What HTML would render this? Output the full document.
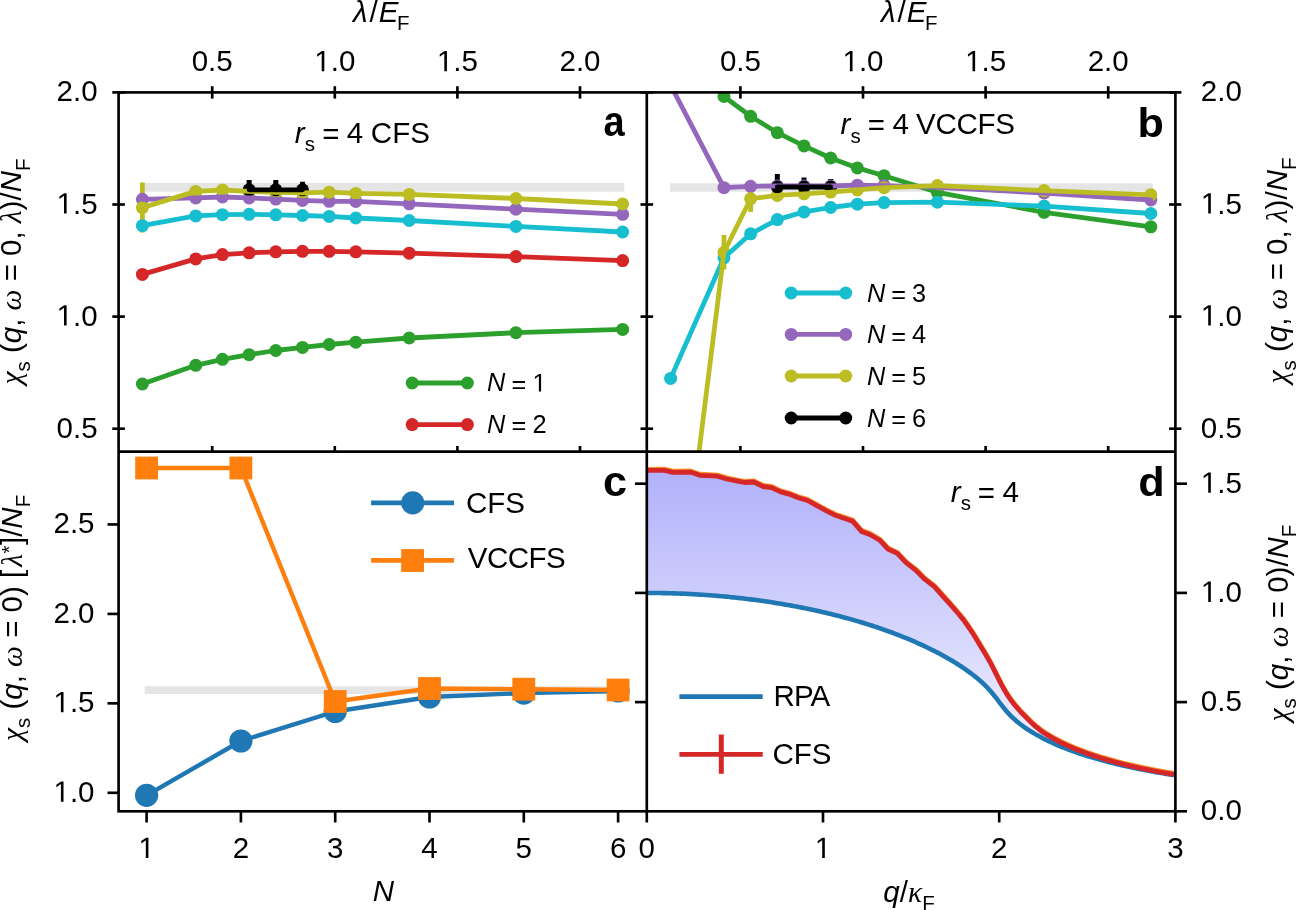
<!DOCTYPE html>
<html><head><meta charset="utf-8"><style>
html,body{margin:0;padding:0;background:#fff;overflow:hidden;}
svg{display:block;will-change:transform;}
</style></head><body>
<svg width="1297" height="910" viewBox="0 0 1297 910" font-family="Liberation Sans, sans-serif">
<rect width="1297" height="910" fill="#fff"/>
<defs>
<clipPath id="ca"><rect x="118.6" y="92.4" width="528.1999999999999" height="359.20000000000005"/></clipPath>
<clipPath id="cb"><rect x="646.8" y="92.4" width="528.6000000000001" height="359.20000000000005"/></clipPath>
<clipPath id="cc"><rect x="118.6" y="451.6" width="528.1999999999999" height="359.69999999999993"/></clipPath>
<clipPath id="cd"><rect x="646.8" y="451.6" width="528.6000000000001" height="359.69999999999993"/></clipPath>
<linearGradient id="gfill" x1="0" y1="468" x2="0" y2="811" gradientUnits="userSpaceOnUse"><stop offset="0" stop-color="rgb(176,176,250)"/><stop offset="1" stop-color="rgb(255,255,255)"/></linearGradient>
</defs>
<g clip-path="url(#ca)">
<line x1="144.80" y1="187.35" x2="624.30" y2="187.35" stroke="#e5e5e5" stroke-width="8.6" stroke-linecap="butt"/>
<line x1="142.40" y1="182.60" x2="142.40" y2="232.60" stroke="#bcbd22" stroke-width="4.8" stroke-linecap="butt"/>
<line x1="249.12" y1="180.10" x2="249.12" y2="199.50" stroke="#000" stroke-width="5.0" stroke-linecap="butt"/>
<line x1="275.80" y1="180.10" x2="275.80" y2="199.50" stroke="#000" stroke-width="5.0" stroke-linecap="butt"/>
<line x1="302.48" y1="181.70" x2="302.48" y2="197.90" stroke="#000" stroke-width="5.0" stroke-linecap="butt"/>
<circle cx="142.40" cy="384.00" r="6.5" fill="#2ca02c"/>
<circle cx="195.76" cy="365.30" r="6.5" fill="#2ca02c"/>
<circle cx="222.44" cy="359.30" r="6.5" fill="#2ca02c"/>
<circle cx="249.12" cy="354.70" r="6.5" fill="#2ca02c"/>
<circle cx="275.80" cy="350.50" r="6.5" fill="#2ca02c"/>
<circle cx="302.48" cy="347.40" r="6.5" fill="#2ca02c"/>
<circle cx="329.16" cy="344.50" r="6.5" fill="#2ca02c"/>
<circle cx="355.84" cy="342.20" r="6.5" fill="#2ca02c"/>
<circle cx="409.20" cy="338.00" r="6.5" fill="#2ca02c"/>
<circle cx="515.92" cy="332.70" r="6.5" fill="#2ca02c"/>
<circle cx="622.64" cy="329.40" r="6.5" fill="#2ca02c"/>
<circle cx="142.40" cy="274.40" r="6.5" fill="#d62728"/>
<circle cx="195.76" cy="258.90" r="6.5" fill="#d62728"/>
<circle cx="222.44" cy="254.60" r="6.5" fill="#d62728"/>
<circle cx="249.12" cy="252.80" r="6.5" fill="#d62728"/>
<circle cx="275.80" cy="251.80" r="6.5" fill="#d62728"/>
<circle cx="302.48" cy="251.30" r="6.5" fill="#d62728"/>
<circle cx="329.16" cy="251.30" r="6.5" fill="#d62728"/>
<circle cx="355.84" cy="251.80" r="6.5" fill="#d62728"/>
<circle cx="409.20" cy="253.20" r="6.5" fill="#d62728"/>
<circle cx="515.92" cy="256.60" r="6.5" fill="#d62728"/>
<circle cx="622.64" cy="260.60" r="6.5" fill="#d62728"/>
<circle cx="142.40" cy="225.70" r="6.5" fill="#17becf"/>
<circle cx="195.76" cy="215.90" r="6.5" fill="#17becf"/>
<circle cx="222.44" cy="214.70" r="6.5" fill="#17becf"/>
<circle cx="249.12" cy="214.30" r="6.5" fill="#17becf"/>
<circle cx="275.80" cy="214.80" r="6.5" fill="#17becf"/>
<circle cx="302.48" cy="215.50" r="6.5" fill="#17becf"/>
<circle cx="329.16" cy="216.40" r="6.5" fill="#17becf"/>
<circle cx="355.84" cy="218.00" r="6.5" fill="#17becf"/>
<circle cx="409.20" cy="220.50" r="6.5" fill="#17becf"/>
<circle cx="515.92" cy="226.40" r="6.5" fill="#17becf"/>
<circle cx="622.64" cy="232.00" r="6.5" fill="#17becf"/>
<circle cx="142.40" cy="199.30" r="6.5" fill="#9467bd"/>
<circle cx="195.76" cy="197.90" r="6.5" fill="#9467bd"/>
<circle cx="222.44" cy="197.00" r="6.5" fill="#9467bd"/>
<circle cx="249.12" cy="197.90" r="6.5" fill="#9467bd"/>
<circle cx="275.80" cy="199.10" r="6.5" fill="#9467bd"/>
<circle cx="302.48" cy="200.40" r="6.5" fill="#9467bd"/>
<circle cx="329.16" cy="201.30" r="6.5" fill="#9467bd"/>
<circle cx="355.84" cy="201.40" r="6.5" fill="#9467bd"/>
<circle cx="409.20" cy="203.80" r="6.5" fill="#9467bd"/>
<circle cx="515.92" cy="209.20" r="6.5" fill="#9467bd"/>
<circle cx="622.64" cy="214.30" r="6.5" fill="#9467bd"/>
<circle cx="142.40" cy="207.60" r="6.5" fill="#bcbd22"/>
<circle cx="195.76" cy="191.40" r="6.5" fill="#bcbd22"/>
<circle cx="222.44" cy="190.00" r="6.5" fill="#bcbd22"/>
<circle cx="249.12" cy="191.30" r="6.5" fill="#bcbd22"/>
<circle cx="275.80" cy="192.30" r="6.5" fill="#bcbd22"/>
<circle cx="302.48" cy="192.80" r="6.5" fill="#bcbd22"/>
<circle cx="329.16" cy="192.20" r="6.5" fill="#bcbd22"/>
<circle cx="355.84" cy="193.40" r="6.5" fill="#bcbd22"/>
<circle cx="409.20" cy="194.40" r="6.5" fill="#bcbd22"/>
<circle cx="515.92" cy="198.50" r="6.5" fill="#bcbd22"/>
<circle cx="622.64" cy="204.00" r="6.5" fill="#bcbd22"/>
<circle cx="249.12" cy="189.80" r="6.5" fill="#000"/>
<circle cx="275.80" cy="189.80" r="6.5" fill="#000"/>
<circle cx="302.48" cy="189.80" r="6.5" fill="#000"/>
<polyline points="142.40,384.00 195.76,365.30 222.44,359.30 249.12,354.70 275.80,350.50 302.48,347.40 329.16,344.50 355.84,342.20 409.20,338.00 515.92,332.70 622.64,329.40" fill="none" stroke="#2ca02c" stroke-width="4.8" stroke-linejoin="round" stroke-linecap="round" />
<polyline points="142.40,274.40 195.76,258.90 222.44,254.60 249.12,252.80 275.80,251.80 302.48,251.30 329.16,251.30 355.84,251.80 409.20,253.20 515.92,256.60 622.64,260.60" fill="none" stroke="#d62728" stroke-width="4.8" stroke-linejoin="round" stroke-linecap="round" />
<polyline points="142.40,225.70 195.76,215.90 222.44,214.70 249.12,214.30 275.80,214.80 302.48,215.50 329.16,216.40 355.84,218.00 409.20,220.50 515.92,226.40 622.64,232.00" fill="none" stroke="#17becf" stroke-width="4.8" stroke-linejoin="round" stroke-linecap="round" />
<polyline points="142.40,199.30 195.76,197.90 222.44,197.00 249.12,197.90 275.80,199.10 302.48,200.40 329.16,201.30 355.84,201.40 409.20,203.80 515.92,209.20 622.64,214.30" fill="none" stroke="#9467bd" stroke-width="4.8" stroke-linejoin="round" stroke-linecap="round" />
<polyline points="142.40,207.60 195.76,191.40 222.44,190.00 249.12,191.30 275.80,192.30 302.48,192.80 329.16,192.20 355.84,193.40 409.20,194.40 515.92,198.50 622.64,204.00" fill="none" stroke="#bcbd22" stroke-width="4.8" stroke-linejoin="round" stroke-linecap="round" />
<polyline points="249.12,189.80 275.80,189.80 302.48,189.80" fill="none" stroke="#000" stroke-width="4.8" stroke-linejoin="round" stroke-linecap="round" />
</g>
<g clip-path="url(#cb)">
<line x1="670.00" y1="187.50" x2="1152.90" y2="187.50" stroke="#e5e5e5" stroke-width="8.6" stroke-linecap="butt"/>
<line x1="723.96" y1="235.00" x2="723.96" y2="269.60" stroke="#bcbd22" stroke-width="4.8" stroke-linecap="butt"/>
<line x1="750.64" y1="185.50" x2="750.64" y2="211.90" stroke="#bcbd22" stroke-width="4.8" stroke-linecap="butt"/>
<line x1="777.32" y1="174.00" x2="777.32" y2="200.00" stroke="#000" stroke-width="5.0" stroke-linecap="butt"/>
<line x1="804.00" y1="177.40" x2="804.00" y2="196.60" stroke="#000" stroke-width="5.0" stroke-linecap="butt"/>
<line x1="830.68" y1="179.10" x2="830.68" y2="194.90" stroke="#000" stroke-width="5.0" stroke-linecap="butt"/>
<circle cx="723.96" cy="96.50" r="6.5" fill="#2ca02c"/>
<circle cx="750.64" cy="116.30" r="6.5" fill="#2ca02c"/>
<circle cx="777.32" cy="132.70" r="6.5" fill="#2ca02c"/>
<circle cx="804.00" cy="145.90" r="6.5" fill="#2ca02c"/>
<circle cx="830.68" cy="158.00" r="6.5" fill="#2ca02c"/>
<circle cx="857.36" cy="167.90" r="6.5" fill="#2ca02c"/>
<circle cx="884.04" cy="175.70" r="6.5" fill="#2ca02c"/>
<circle cx="937.40" cy="192.30" r="6.5" fill="#2ca02c"/>
<circle cx="1044.12" cy="212.30" r="6.5" fill="#2ca02c"/>
<circle cx="1150.84" cy="226.80" r="6.5" fill="#2ca02c"/>
<circle cx="670.60" cy="378.40" r="6.5" fill="#17becf"/>
<circle cx="723.96" cy="257.80" r="6.5" fill="#17becf"/>
<circle cx="750.64" cy="233.80" r="6.5" fill="#17becf"/>
<circle cx="777.32" cy="219.60" r="6.5" fill="#17becf"/>
<circle cx="804.00" cy="211.90" r="6.5" fill="#17becf"/>
<circle cx="830.68" cy="207.50" r="6.5" fill="#17becf"/>
<circle cx="857.36" cy="204.20" r="6.5" fill="#17becf"/>
<circle cx="884.04" cy="202.60" r="6.5" fill="#17becf"/>
<circle cx="937.40" cy="202.20" r="6.5" fill="#17becf"/>
<circle cx="1044.12" cy="206.10" r="6.5" fill="#17becf"/>
<circle cx="1150.84" cy="213.50" r="6.5" fill="#17becf"/>
<circle cx="670.60" cy="85.10" r="6.5" fill="#9467bd"/>
<circle cx="723.96" cy="187.70" r="6.5" fill="#9467bd"/>
<circle cx="750.64" cy="186.30" r="6.5" fill="#9467bd"/>
<circle cx="777.32" cy="186.00" r="6.5" fill="#9467bd"/>
<circle cx="804.00" cy="186.00" r="6.5" fill="#9467bd"/>
<circle cx="830.68" cy="186.00" r="6.5" fill="#9467bd"/>
<circle cx="857.36" cy="185.20" r="6.5" fill="#9467bd"/>
<circle cx="884.04" cy="185.60" r="6.5" fill="#9467bd"/>
<circle cx="937.40" cy="187.40" r="6.5" fill="#9467bd"/>
<circle cx="1044.12" cy="193.00" r="6.5" fill="#9467bd"/>
<circle cx="1150.84" cy="200.00" r="6.5" fill="#9467bd"/>
<circle cx="670.60" cy="679.00" r="6.5" fill="#bcbd22"/>
<circle cx="723.96" cy="252.30" r="6.5" fill="#bcbd22"/>
<circle cx="750.64" cy="198.70" r="6.5" fill="#bcbd22"/>
<circle cx="777.32" cy="195.40" r="6.5" fill="#bcbd22"/>
<circle cx="804.00" cy="193.80" r="6.5" fill="#bcbd22"/>
<circle cx="830.68" cy="192.10" r="6.5" fill="#bcbd22"/>
<circle cx="857.36" cy="189.90" r="6.5" fill="#bcbd22"/>
<circle cx="884.04" cy="187.70" r="6.5" fill="#bcbd22"/>
<circle cx="937.40" cy="185.60" r="6.5" fill="#bcbd22"/>
<circle cx="1044.12" cy="190.60" r="6.5" fill="#bcbd22"/>
<circle cx="1150.84" cy="194.80" r="6.5" fill="#bcbd22"/>
<circle cx="777.32" cy="187.00" r="6.5" fill="#000"/>
<circle cx="804.00" cy="187.00" r="6.5" fill="#000"/>
<circle cx="830.68" cy="187.00" r="6.5" fill="#000"/>
<polyline points="723.96,96.50 750.64,116.30 777.32,132.70 804.00,145.90 830.68,158.00 857.36,167.90 884.04,175.70 937.40,192.30 1044.12,212.30 1150.84,226.80" fill="none" stroke="#2ca02c" stroke-width="4.8" stroke-linejoin="round" stroke-linecap="round" />
<polyline points="670.60,378.40 723.96,257.80 750.64,233.80 777.32,219.60 804.00,211.90 830.68,207.50 857.36,204.20 884.04,202.60 937.40,202.20 1044.12,206.10 1150.84,213.50" fill="none" stroke="#17becf" stroke-width="4.8" stroke-linejoin="round" stroke-linecap="round" />
<polyline points="670.60,85.10 723.96,187.70 750.64,186.30 777.32,186.00 804.00,186.00 830.68,186.00 857.36,185.20 884.04,185.60 937.40,187.40 1044.12,193.00 1150.84,200.00" fill="none" stroke="#9467bd" stroke-width="4.8" stroke-linejoin="round" stroke-linecap="round" />
<polyline points="670.60,679.00 723.96,252.30 750.64,198.70 777.32,195.40 804.00,193.80 830.68,192.10 857.36,189.90 884.04,187.70 937.40,185.60 1044.12,190.60 1150.84,194.80" fill="none" stroke="#bcbd22" stroke-width="4.8" stroke-linejoin="round" stroke-linecap="round" />
<polyline points="777.32,187.00 804.00,187.00 830.68,187.00" fill="none" stroke="#000" stroke-width="4.8" stroke-linejoin="round" stroke-linecap="round" />
</g>
<g clip-path="url(#cc)">
<line x1="144.60" y1="690.10" x2="618.10" y2="690.10" stroke="#e5e5e5" stroke-width="7.8" stroke-linecap="butt"/>
<polyline points="146.60,795.30 240.90,741.00 335.20,711.50 429.50,697.00 523.80,693.10 618.10,691.00" fill="none" stroke="#1f77b4" stroke-width="4.4" stroke-linejoin="round" stroke-linecap="round" />
<circle cx="146.60" cy="795.30" r="11.6" fill="#1f77b4"/>
<circle cx="240.90" cy="741.00" r="11.6" fill="#1f77b4"/>
<circle cx="335.20" cy="711.50" r="11.6" fill="#1f77b4"/>
<circle cx="429.50" cy="697.00" r="11.6" fill="#1f77b4"/>
<circle cx="523.80" cy="693.10" r="11.6" fill="#1f77b4"/>
<circle cx="618.10" cy="691.00" r="11.6" fill="#1f77b4"/>
<polyline points="146.60,468.00 240.90,468.00 335.20,701.50 429.50,688.50 523.80,689.20 618.10,690.00" fill="none" stroke="#ff7f0e" stroke-width="4.4" stroke-linejoin="round" stroke-linecap="round" />
<rect x="135.20" y="456.60" width="22.8" height="22.8" fill="#ff7f0e"/>
<rect x="229.50" y="456.60" width="22.8" height="22.8" fill="#ff7f0e"/>
<rect x="323.80" y="690.10" width="22.8" height="22.8" fill="#ff7f0e"/>
<rect x="418.10" y="677.10" width="22.8" height="22.8" fill="#ff7f0e"/>
<rect x="512.40" y="677.80" width="22.8" height="22.8" fill="#ff7f0e"/>
<rect x="606.70" y="678.60" width="22.8" height="22.8" fill="#ff7f0e"/>
</g>
<g clip-path="url(#cd)">
<path d="M646.80,470.40 L648.10,470.40 L664.30,470.30 L672.80,472.30 L690.50,472.10 L699.70,475.30 L717.50,476.20 L726.70,479.00 L740.00,481.60 L744.60,482.50 L753.90,482.00 L763.10,486.50 L771.50,487.60 L780.70,491.90 L789.00,494.10 L798.30,497.80 L807.50,500.50 L816.80,505.60 L826.00,510.70 L835.30,515.30 L852.60,521.20 L861.50,531.40 L870.30,534.70 L879.70,540.20 L887.90,549.00 L897.30,553.40 L906.00,562.70 L915.90,570.40 L924.70,579.20 L934.60,586.90 L943.40,596.80 L950.00,604.07 L952.00,606.33 L954.00,608.63 L956.00,610.95 L958.00,613.31 L960.00,615.70 L962.00,618.13 L964.00,620.60 L966.00,623.45 L968.00,626.33 L970.00,629.24 L972.00,632.17 L974.00,635.31 L976.00,638.57 L978.00,641.86 L980.00,645.20 L982.00,648.55 L984.00,651.78 L986.00,655.13 L988.00,658.60 L990.00,662.21 L992.00,665.98 L994.00,669.87 L996.00,673.85 L998.00,677.87 L1000.00,681.81 L1002.00,685.61 L1004.00,689.27 L1006.00,692.72 L1008.00,695.95 L1010.00,698.90 L1012.00,701.64 L1014.00,704.18 L1016.00,706.56 L1018.00,708.88 L1020.00,711.14 L1022.00,713.27 L1024.00,715.29 L1026.00,717.27 L1028.00,719.38 L1030.00,721.38 L1032.00,723.30 L1034.00,725.13 L1036.00,726.84 L1038.00,728.47 L1040.00,730.03 L1042.00,731.54 L1044.00,732.94 L1046.00,734.20 L1048.00,735.42 L1050.00,736.60 L1052.00,737.75 L1054.00,738.87 L1056.00,739.95 L1058.00,741.01 L1060.00,742.03 L1062.00,743.03 L1064.00,743.99 L1066.00,744.92 L1068.00,745.83 L1070.00,746.72 L1072.00,747.59 L1074.00,748.44 L1076.00,749.26 L1078.00,750.07 L1080.00,750.85 L1082.00,751.60 L1084.00,752.33 L1086.00,753.05 L1088.00,753.75 L1090.00,754.44 L1092.00,755.12 L1094.00,755.78 L1096.00,756.43 L1098.00,757.07 L1100.00,757.70 L1102.00,758.31 L1104.00,758.92 L1106.00,759.51 L1108.00,760.09 L1110.00,760.66 L1112.00,761.22 L1114.00,761.77 L1116.00,762.31 L1118.00,762.84 L1120.00,763.36 L1122.00,763.87 L1124.00,764.37 L1126.00,764.86 L1128.00,765.34 L1130.00,765.81 L1132.00,766.28 L1134.00,766.73 L1136.00,767.18 L1138.00,767.62 L1140.00,768.06 L1142.00,768.48 L1144.00,768.90 L1146.00,769.31 L1148.00,769.72 L1150.00,770.12 L1152.00,770.52 L1154.00,770.90 L1156.00,771.28 L1158.00,771.66 L1160.00,772.03 L1162.00,772.39 L1164.00,772.75 L1166.00,773.11 L1168.00,773.46 L1170.00,773.80 L1172.00,774.14 L1174.00,774.47 L1175.40,775.30 L1173.64,775.03 L1171.88,774.75 L1170.11,774.48 L1168.35,774.19 L1166.59,773.91 L1164.83,773.62 L1163.07,773.32 L1161.30,773.03 L1159.54,772.72 L1157.78,772.42 L1156.02,772.11 L1154.26,771.80 L1152.49,771.48 L1150.73,771.16 L1148.97,770.84 L1147.21,770.51 L1145.45,770.17 L1143.68,769.84 L1141.92,769.49 L1140.16,769.15 L1138.40,768.79 L1136.64,768.44 L1134.87,768.08 L1133.11,767.71 L1131.35,767.34 L1129.59,766.96 L1127.83,766.58 L1126.06,766.19 L1124.30,765.80 L1122.54,765.40 L1120.78,764.99 L1119.02,764.58 L1117.25,764.17 L1115.49,763.75 L1113.73,763.32 L1111.97,762.88 L1110.21,762.44 L1108.44,761.99 L1106.68,761.53 L1104.92,761.07 L1103.16,760.60 L1101.40,760.12 L1099.63,759.64 L1097.87,759.15 L1096.11,758.64 L1094.35,758.13 L1092.59,757.62 L1090.82,757.09 L1089.06,756.56 L1087.30,756.01 L1085.54,755.46 L1083.78,754.89 L1082.01,754.32 L1080.25,753.74 L1078.49,753.14 L1076.73,752.54 L1074.97,751.92 L1073.20,751.30 L1071.44,750.66 L1069.68,750.01 L1067.92,749.34 L1066.16,748.67 L1064.39,747.98 L1062.63,747.27 L1060.87,746.55 L1059.11,745.82 L1057.35,745.07 L1055.58,744.31 L1053.82,743.53 L1052.06,742.73 L1050.30,741.91 L1048.54,741.08 L1046.77,740.22 L1045.01,739.35 L1043.25,738.45 L1041.49,737.53 L1039.73,736.59 L1037.96,735.62 L1036.20,734.63 L1034.44,733.61 L1032.68,732.56 L1030.92,731.48 L1029.15,730.37 L1027.39,729.22 L1025.63,728.03 L1023.87,726.80 L1022.11,725.53 L1020.34,724.20 L1018.58,722.83 L1016.82,721.38 L1015.06,719.87 L1013.30,718.27 L1011.53,716.59 L1009.77,714.80 L1008.01,712.91 L1006.25,710.91 L1004.49,708.80 L1002.72,706.60 L1000.96,704.34 L999.20,702.03 L997.44,699.72 L995.68,697.43 L993.91,695.19 L992.15,693.04 L990.39,690.97 L988.63,689.00 L986.87,687.13 L985.10,685.35 L983.34,683.65 L981.58,682.03 L979.82,680.46 L978.06,678.96 L976.29,677.50 L974.53,676.09 L972.77,674.72 L971.01,673.39 L969.25,672.08 L967.48,670.81 L965.72,669.57 L963.96,668.36 L962.20,667.17 L960.44,666.01 L958.67,664.87 L956.91,663.75 L955.15,662.65 L953.39,661.57 L951.63,660.52 L949.86,659.48 L948.10,658.45 L946.34,657.45 L944.58,656.46 L942.82,655.48 L941.05,654.53 L939.29,653.58 L937.53,652.65 L935.77,651.74 L934.01,650.84 L932.24,649.95 L930.48,649.07 L928.72,648.21 L926.96,647.36 L925.20,646.52 L923.43,645.69 L921.67,644.88 L919.91,644.07 L918.15,643.28 L916.39,642.49 L914.62,641.72 L912.86,640.95 L911.10,640.20 L909.34,639.46 L907.58,638.72 L905.81,637.99 L904.05,637.28 L902.29,636.57 L900.53,635.87 L898.77,635.18 L897.00,634.50 L895.24,633.83 L893.48,633.16 L891.72,632.51 L889.96,631.86 L888.19,631.21 L886.43,630.58 L884.67,629.96 L882.91,629.34 L881.15,628.73 L879.38,628.12 L877.62,627.53 L875.86,626.94 L874.10,626.35 L872.34,625.78 L870.57,625.21 L868.81,624.65 L867.05,624.09 L865.29,623.54 L863.53,623.00 L861.76,622.46 L860.00,621.94 L858.24,621.41 L856.48,620.89 L854.72,620.38 L852.95,619.88 L851.19,619.38 L849.43,618.89 L847.67,618.40 L845.91,617.92 L844.14,617.44 L842.38,616.97 L840.62,616.51 L838.86,616.05 L837.10,615.60 L835.33,615.15 L833.57,614.71 L831.81,614.27 L830.05,613.84 L828.29,613.41 L826.52,612.99 L824.76,612.58 L823.00,612.16 L821.24,611.76 L819.48,611.36 L817.71,610.96 L815.95,610.57 L814.19,610.19 L812.43,609.81 L810.67,609.43 L808.90,609.06 L807.14,608.70 L805.38,608.34 L803.62,607.98 L801.86,607.63 L800.09,607.28 L798.33,606.94 L796.57,606.60 L794.81,606.27 L793.05,605.94 L791.28,605.62 L789.52,605.30 L787.76,604.98 L786.00,604.67 L784.24,604.37 L782.47,604.07 L780.71,603.77 L778.95,603.48 L777.19,603.19 L775.43,602.91 L773.66,602.63 L771.90,602.35 L770.14,602.08 L768.38,601.82 L766.62,601.55 L764.85,601.30 L763.09,601.04 L761.33,600.79 L759.57,600.55 L757.81,600.31 L756.04,600.07 L754.28,599.84 L752.52,599.61 L750.76,599.38 L749.00,599.16 L747.23,598.94 L745.47,598.73 L743.71,598.52 L741.95,598.32 L740.19,598.12 L738.42,597.92 L736.66,597.73 L734.90,597.54 L733.14,597.36 L731.38,597.17 L729.61,597.00 L727.85,596.82 L726.09,596.65 L724.33,596.49 L722.57,596.33 L720.80,596.17 L719.04,596.02 L717.28,595.87 L715.52,595.72 L713.76,595.58 L711.99,595.44 L710.23,595.30 L708.47,595.17 L706.71,595.05 L704.95,594.92 L703.18,594.80 L701.42,594.69 L699.66,594.58 L697.90,594.47 L696.14,594.36 L694.37,594.26 L692.61,594.16 L690.85,594.07 L689.09,593.98 L687.33,593.89 L685.56,593.81 L683.80,593.73 L682.04,593.66 L680.28,593.59 L678.52,593.52 L676.75,593.46 L674.99,593.40 L673.23,593.34 L671.47,593.29 L669.71,593.24 L667.94,593.19 L666.18,593.15 L664.42,593.11 L662.66,593.08 L660.90,593.05 L659.13,593.02 L657.37,592.99 L655.61,592.97 L653.85,592.96 L652.09,592.95 L650.32,592.94 L648.56,592.93 L646.80,592.93 Z" fill="url(#gfill)" stroke="none"/>
<polyline points="646.80,592.93 648.56,592.93 650.32,592.94 652.09,592.95 653.85,592.96 655.61,592.97 657.37,592.99 659.13,593.02 660.90,593.05 662.66,593.08 664.42,593.11 666.18,593.15 667.94,593.19 669.71,593.24 671.47,593.29 673.23,593.34 674.99,593.40 676.75,593.46 678.52,593.52 680.28,593.59 682.04,593.66 683.80,593.73 685.56,593.81 687.33,593.89 689.09,593.98 690.85,594.07 692.61,594.16 694.37,594.26 696.14,594.36 697.90,594.47 699.66,594.58 701.42,594.69 703.18,594.80 704.95,594.92 706.71,595.05 708.47,595.17 710.23,595.30 711.99,595.44 713.76,595.58 715.52,595.72 717.28,595.87 719.04,596.02 720.80,596.17 722.57,596.33 724.33,596.49 726.09,596.65 727.85,596.82 729.61,597.00 731.38,597.17 733.14,597.36 734.90,597.54 736.66,597.73 738.42,597.92 740.19,598.12 741.95,598.32 743.71,598.52 745.47,598.73 747.23,598.94 749.00,599.16 750.76,599.38 752.52,599.61 754.28,599.84 756.04,600.07 757.81,600.31 759.57,600.55 761.33,600.79 763.09,601.04 764.85,601.30 766.62,601.55 768.38,601.82 770.14,602.08 771.90,602.35 773.66,602.63 775.43,602.91 777.19,603.19 778.95,603.48 780.71,603.77 782.47,604.07 784.24,604.37 786.00,604.67 787.76,604.98 789.52,605.30 791.28,605.62 793.05,605.94 794.81,606.27 796.57,606.60 798.33,606.94 800.09,607.28 801.86,607.63 803.62,607.98 805.38,608.34 807.14,608.70 808.90,609.06 810.67,609.43 812.43,609.81 814.19,610.19 815.95,610.57 817.71,610.96 819.48,611.36 821.24,611.76 823.00,612.16 824.76,612.58 826.52,612.99 828.29,613.41 830.05,613.84 831.81,614.27 833.57,614.71 835.33,615.15 837.10,615.60 838.86,616.05 840.62,616.51 842.38,616.97 844.14,617.44 845.91,617.92 847.67,618.40 849.43,618.89 851.19,619.38 852.95,619.88 854.72,620.38 856.48,620.89 858.24,621.41 860.00,621.94 861.76,622.46 863.53,623.00 865.29,623.54 867.05,624.09 868.81,624.65 870.57,625.21 872.34,625.78 874.10,626.35 875.86,626.94 877.62,627.53 879.38,628.12 881.15,628.73 882.91,629.34 884.67,629.96 886.43,630.58 888.19,631.21 889.96,631.86 891.72,632.51 893.48,633.16 895.24,633.83 897.00,634.50 898.77,635.18 900.53,635.87 902.29,636.57 904.05,637.28 905.81,637.99 907.58,638.72 909.34,639.46 911.10,640.20 912.86,640.95 914.62,641.72 916.39,642.49 918.15,643.28 919.91,644.07 921.67,644.88 923.43,645.69 925.20,646.52 926.96,647.36 928.72,648.21 930.48,649.07 932.24,649.95 934.01,650.84 935.77,651.74 937.53,652.65 939.29,653.58 941.05,654.53 942.82,655.48 944.58,656.46 946.34,657.45 948.10,658.45 949.86,659.48 951.63,660.52 953.39,661.57 955.15,662.65 956.91,663.75 958.67,664.87 960.44,666.01 962.20,667.17 963.96,668.36 965.72,669.57 967.48,670.81 969.25,672.08 971.01,673.39 972.77,674.72 974.53,676.09 976.29,677.50 978.06,678.96 979.82,680.46 981.58,682.03 983.34,683.65 985.10,685.35 986.87,687.13 988.63,689.00 990.39,690.97 992.15,693.04 993.91,695.19 995.68,697.43 997.44,699.72 999.20,702.03 1000.96,704.34 1002.72,706.60 1004.49,708.80 1006.25,710.91 1008.01,712.91 1009.77,714.80 1011.53,716.59 1013.30,718.27 1015.06,719.87 1016.82,721.38 1018.58,722.83 1020.34,724.20 1022.11,725.53 1023.87,726.80 1025.63,728.03 1027.39,729.22 1029.15,730.37 1030.92,731.48 1032.68,732.56 1034.44,733.61 1036.20,734.63 1037.96,735.62 1039.73,736.59 1041.49,737.53 1043.25,738.45 1045.01,739.35 1046.77,740.22 1048.54,741.08 1050.30,741.91 1052.06,742.73 1053.82,743.53 1055.58,744.31 1057.35,745.07 1059.11,745.82 1060.87,746.55 1062.63,747.27 1064.39,747.98 1066.16,748.67 1067.92,749.34 1069.68,750.01 1071.44,750.66 1073.20,751.30 1074.97,751.92 1076.73,752.54 1078.49,753.14 1080.25,753.74 1082.01,754.32 1083.78,754.89 1085.54,755.46 1087.30,756.01 1089.06,756.56 1090.82,757.09 1092.59,757.62 1094.35,758.13 1096.11,758.64 1097.87,759.15 1099.63,759.64 1101.40,760.12 1103.16,760.60 1104.92,761.07 1106.68,761.53 1108.44,761.99 1110.21,762.44 1111.97,762.88 1113.73,763.32 1115.49,763.75 1117.25,764.17 1119.02,764.58 1120.78,764.99 1122.54,765.40 1124.30,765.80 1126.06,766.19 1127.83,766.58 1129.59,766.96 1131.35,767.34 1133.11,767.71 1134.87,768.08 1136.64,768.44 1138.40,768.79 1140.16,769.15 1141.92,769.49 1143.68,769.84 1145.45,770.17 1147.21,770.51 1148.97,770.84 1150.73,771.16 1152.49,771.48 1154.26,771.80 1156.02,772.11 1157.78,772.42 1159.54,772.72 1161.30,773.03 1163.07,773.32 1164.83,773.62 1166.59,773.91 1168.35,774.19 1170.11,774.48 1171.88,774.75 1173.64,775.03 1175.40,775.30" fill="none" stroke="#1f77b4" stroke-width="4.6" stroke-linejoin="round" stroke-linecap="butt" />
<polyline points="646.80,469.30 648.10,469.30 664.30,469.20 672.80,471.20 690.50,471.00 699.70,474.20 717.50,475.10 726.70,477.90 740.00,480.50 744.60,481.40 753.90,480.90 763.10,485.40 771.50,486.50 780.70,490.80 789.00,493.00 798.30,496.70 807.50,499.40 816.80,504.50 826.00,509.60 835.30,514.20 852.60,520.10 861.50,530.30 870.30,533.60 879.70,539.10 887.90,547.90 897.30,552.30 906.00,561.60 915.90,569.30 924.70,578.10 934.60,585.80 943.40,595.70 950.00,602.97 952.00,605.23 954.00,607.53 956.00,609.85 958.00,612.21 960.00,614.60 962.00,617.03 964.00,619.50 966.00,622.35 968.00,625.23 970.00,628.14 972.00,631.07 974.00,634.21 976.00,637.47 978.00,640.76 980.00,644.10 982.00,647.45 984.00,650.68 986.00,654.03 988.00,657.50 990.00,661.11 992.00,664.88 994.00,668.77 996.00,672.75 998.00,676.77 1000.00,680.71 1002.00,684.51 1004.00,688.17 1006.00,691.62 1008.00,694.85 1010.00,697.80 1012.00,700.54 1014.00,703.08 1016.00,705.46 1018.00,707.78 1020.00,710.04 1022.00,712.17 1024.00,714.19 1026.00,716.17 1028.00,718.28 1030.00,720.28 1032.00,722.20 1034.00,724.03 1036.00,725.74 1038.00,727.37 1040.00,728.93 1042.00,730.44 1044.00,731.84 1046.00,733.10 1048.00,734.32 1050.00,735.50 1052.00,736.65 1054.00,737.77 1056.00,738.85 1058.00,739.91 1060.00,740.93 1062.00,741.93 1064.00,742.89 1066.00,743.82 1068.00,744.73 1070.00,745.62 1072.00,746.49 1074.00,747.34 1076.00,748.16 1078.00,748.97 1080.00,749.75 1082.00,750.50 1084.00,751.23 1086.00,751.95 1088.00,752.65 1090.00,753.34 1092.00,754.02 1094.00,754.68 1096.00,755.33 1098.00,755.97 1100.00,756.60 1102.00,757.21 1104.00,757.82 1106.00,758.41 1108.00,758.99 1110.00,759.56 1112.00,760.12 1114.00,760.67 1116.00,761.21 1118.00,761.74 1120.00,762.26 1122.00,762.77 1124.00,763.27 1126.00,763.76 1128.00,764.24 1130.00,764.71 1132.00,765.18 1134.00,765.63 1136.00,766.08 1138.00,766.52 1140.00,766.96 1142.00,767.38 1144.00,767.80 1146.00,768.21 1148.00,768.62 1150.00,769.02 1152.00,769.42 1154.00,769.80 1156.00,770.18 1158.00,770.56 1160.00,770.93 1162.00,771.29 1164.00,771.65 1166.00,772.01 1168.00,772.36 1170.00,772.70 1172.00,773.04 1174.00,773.37" fill="none" stroke="#ff8c2a" stroke-width="4.8" stroke-linejoin="round" stroke-linecap="butt" />
<polyline points="646.80,470.40 648.10,470.40 664.30,470.30 672.80,472.30 690.50,472.10 699.70,475.30 717.50,476.20 726.70,479.00 740.00,481.60 744.60,482.50 753.90,482.00 763.10,486.50 771.50,487.60 780.70,491.90 789.00,494.10 798.30,497.80 807.50,500.50 816.80,505.60 826.00,510.70 835.30,515.30 852.60,521.20 861.50,531.40 870.30,534.70 879.70,540.20 887.90,549.00 897.30,553.40 906.00,562.70 915.90,570.40 924.70,579.20 934.60,586.90 943.40,596.80 950.00,604.07 952.00,606.33 954.00,608.63 956.00,610.95 958.00,613.31 960.00,615.70 962.00,618.13 964.00,620.60 966.00,623.45 968.00,626.33 970.00,629.24 972.00,632.17 974.00,635.31 976.00,638.57 978.00,641.86 980.00,645.20 982.00,648.55 984.00,651.78 986.00,655.13 988.00,658.60 990.00,662.21 992.00,665.98 994.00,669.87 996.00,673.85 998.00,677.87 1000.00,681.81 1002.00,685.61 1004.00,689.27 1006.00,692.72 1008.00,695.95 1010.00,698.90 1012.00,701.64 1014.00,704.18 1016.00,706.56 1018.00,708.88 1020.00,711.14 1022.00,713.27 1024.00,715.29 1026.00,717.27 1028.00,719.38 1030.00,721.38 1032.00,723.30 1034.00,725.13 1036.00,726.84 1038.00,728.47 1040.00,730.03 1042.00,731.54 1044.00,732.94 1046.00,734.20 1048.00,735.42 1050.00,736.60 1052.00,737.75 1054.00,738.87 1056.00,739.95 1058.00,741.01 1060.00,742.03 1062.00,743.03 1064.00,743.99 1066.00,744.92 1068.00,745.83 1070.00,746.72 1072.00,747.59 1074.00,748.44 1076.00,749.26 1078.00,750.07 1080.00,750.85 1082.00,751.60 1084.00,752.33 1086.00,753.05 1088.00,753.75 1090.00,754.44 1092.00,755.12 1094.00,755.78 1096.00,756.43 1098.00,757.07 1100.00,757.70 1102.00,758.31 1104.00,758.92 1106.00,759.51 1108.00,760.09 1110.00,760.66 1112.00,761.22 1114.00,761.77 1116.00,762.31 1118.00,762.84 1120.00,763.36 1122.00,763.87 1124.00,764.37 1126.00,764.86 1128.00,765.34 1130.00,765.81 1132.00,766.28 1134.00,766.73 1136.00,767.18 1138.00,767.62 1140.00,768.06 1142.00,768.48 1144.00,768.90 1146.00,769.31 1148.00,769.72 1150.00,770.12 1152.00,770.52 1154.00,770.90 1156.00,771.28 1158.00,771.66 1160.00,772.03 1162.00,772.39 1164.00,772.75 1166.00,773.11 1168.00,773.46 1170.00,773.80 1172.00,774.14 1174.00,774.47" fill="none" stroke="#d62728" stroke-width="4.8" stroke-linejoin="round" stroke-linecap="butt" />
</g>
<rect x="118.6" y="92.4" width="1056.8000000000002" height="718.9" fill="none" stroke="#000" stroke-width="2.65"/>
<line x1="646.80" y1="92.40" x2="646.80" y2="811.30" stroke="#000" stroke-width="2.65" stroke-linecap="butt"/>
<line x1="118.60" y1="451.60" x2="1175.40" y2="451.60" stroke="#000" stroke-width="2.65" stroke-linecap="butt"/>
<line x1="212.20" y1="86.20" x2="212.20" y2="98.60" stroke="#000" stroke-width="2.65" stroke-linecap="butt"/>
<line x1="212.20" y1="446.00" x2="212.20" y2="451.60" stroke="#000" stroke-width="2.65" stroke-linecap="butt"/>
<line x1="740.40" y1="86.20" x2="740.40" y2="98.60" stroke="#000" stroke-width="2.65" stroke-linecap="butt"/>
<line x1="740.40" y1="446.00" x2="740.40" y2="451.60" stroke="#000" stroke-width="2.65" stroke-linecap="butt"/>
<line x1="334.80" y1="86.20" x2="334.80" y2="98.60" stroke="#000" stroke-width="2.65" stroke-linecap="butt"/>
<line x1="334.80" y1="446.00" x2="334.80" y2="451.60" stroke="#000" stroke-width="2.65" stroke-linecap="butt"/>
<line x1="863.00" y1="86.20" x2="863.00" y2="98.60" stroke="#000" stroke-width="2.65" stroke-linecap="butt"/>
<line x1="863.00" y1="446.00" x2="863.00" y2="451.60" stroke="#000" stroke-width="2.65" stroke-linecap="butt"/>
<line x1="457.40" y1="86.20" x2="457.40" y2="98.60" stroke="#000" stroke-width="2.65" stroke-linecap="butt"/>
<line x1="457.40" y1="446.00" x2="457.40" y2="451.60" stroke="#000" stroke-width="2.65" stroke-linecap="butt"/>
<line x1="985.60" y1="86.20" x2="985.60" y2="98.60" stroke="#000" stroke-width="2.65" stroke-linecap="butt"/>
<line x1="985.60" y1="446.00" x2="985.60" y2="451.60" stroke="#000" stroke-width="2.65" stroke-linecap="butt"/>
<line x1="580.00" y1="86.20" x2="580.00" y2="98.60" stroke="#000" stroke-width="2.65" stroke-linecap="butt"/>
<line x1="580.00" y1="446.00" x2="580.00" y2="451.60" stroke="#000" stroke-width="2.65" stroke-linecap="butt"/>
<line x1="1108.20" y1="86.20" x2="1108.20" y2="98.60" stroke="#000" stroke-width="2.65" stroke-linecap="butt"/>
<line x1="1108.20" y1="446.00" x2="1108.20" y2="451.60" stroke="#000" stroke-width="2.65" stroke-linecap="butt"/>
<line x1="112.30" y1="92.40" x2="124.90" y2="92.40" stroke="#000" stroke-width="2.65" stroke-linecap="butt"/>
<line x1="640.50" y1="92.40" x2="653.10" y2="92.40" stroke="#000" stroke-width="2.65" stroke-linecap="butt"/>
<line x1="1169.10" y1="92.40" x2="1181.40" y2="92.40" stroke="#000" stroke-width="2.65" stroke-linecap="butt"/>
<line x1="112.30" y1="204.50" x2="124.90" y2="204.50" stroke="#000" stroke-width="2.65" stroke-linecap="butt"/>
<line x1="640.50" y1="204.50" x2="653.10" y2="204.50" stroke="#000" stroke-width="2.65" stroke-linecap="butt"/>
<line x1="1169.10" y1="204.50" x2="1181.40" y2="204.50" stroke="#000" stroke-width="2.65" stroke-linecap="butt"/>
<line x1="112.30" y1="316.60" x2="124.90" y2="316.60" stroke="#000" stroke-width="2.65" stroke-linecap="butt"/>
<line x1="640.50" y1="316.60" x2="653.10" y2="316.60" stroke="#000" stroke-width="2.65" stroke-linecap="butt"/>
<line x1="1169.10" y1="316.60" x2="1181.40" y2="316.60" stroke="#000" stroke-width="2.65" stroke-linecap="butt"/>
<line x1="112.30" y1="428.70" x2="124.90" y2="428.70" stroke="#000" stroke-width="2.65" stroke-linecap="butt"/>
<line x1="640.50" y1="428.70" x2="653.10" y2="428.70" stroke="#000" stroke-width="2.65" stroke-linecap="butt"/>
<line x1="1169.10" y1="428.70" x2="1181.40" y2="428.70" stroke="#000" stroke-width="2.65" stroke-linecap="butt"/>
<line x1="107.50" y1="524.45" x2="118.60" y2="524.45" stroke="#000" stroke-width="2.65" stroke-linecap="butt"/>
<line x1="107.50" y1="613.90" x2="118.60" y2="613.90" stroke="#000" stroke-width="2.65" stroke-linecap="butt"/>
<line x1="107.50" y1="703.35" x2="118.60" y2="703.35" stroke="#000" stroke-width="2.65" stroke-linecap="butt"/>
<line x1="107.50" y1="792.80" x2="118.60" y2="792.80" stroke="#000" stroke-width="2.65" stroke-linecap="butt"/>
<line x1="146.60" y1="811.30" x2="146.60" y2="822.50" stroke="#000" stroke-width="2.65" stroke-linecap="butt"/>
<line x1="240.90" y1="811.30" x2="240.90" y2="822.50" stroke="#000" stroke-width="2.65" stroke-linecap="butt"/>
<line x1="335.20" y1="811.30" x2="335.20" y2="822.50" stroke="#000" stroke-width="2.65" stroke-linecap="butt"/>
<line x1="429.50" y1="811.30" x2="429.50" y2="822.50" stroke="#000" stroke-width="2.65" stroke-linecap="butt"/>
<line x1="523.80" y1="811.30" x2="523.80" y2="822.50" stroke="#000" stroke-width="2.65" stroke-linecap="butt"/>
<line x1="618.10" y1="811.30" x2="618.10" y2="822.50" stroke="#000" stroke-width="2.65" stroke-linecap="butt"/>
<line x1="635.00" y1="483.70" x2="646.80" y2="483.70" stroke="#000" stroke-width="2.65" stroke-linecap="butt"/>
<line x1="635.00" y1="592.90" x2="646.80" y2="592.90" stroke="#000" stroke-width="2.65" stroke-linecap="butt"/>
<line x1="635.00" y1="702.10" x2="646.80" y2="702.10" stroke="#000" stroke-width="2.65" stroke-linecap="butt"/>
<line x1="1175.40" y1="483.70" x2="1187.00" y2="483.70" stroke="#000" stroke-width="2.65" stroke-linecap="butt"/>
<line x1="1175.40" y1="592.90" x2="1187.00" y2="592.90" stroke="#000" stroke-width="2.65" stroke-linecap="butt"/>
<line x1="1175.40" y1="702.10" x2="1187.00" y2="702.10" stroke="#000" stroke-width="2.65" stroke-linecap="butt"/>
<line x1="1175.40" y1="811.30" x2="1187.00" y2="811.30" stroke="#000" stroke-width="2.65" stroke-linecap="butt"/>
<line x1="646.80" y1="811.30" x2="646.80" y2="822.50" stroke="#000" stroke-width="2.65" stroke-linecap="butt"/>
<line x1="823.00" y1="811.30" x2="823.00" y2="822.50" stroke="#000" stroke-width="2.65" stroke-linecap="butt"/>
<line x1="999.20" y1="811.30" x2="999.20" y2="822.50" stroke="#000" stroke-width="2.65" stroke-linecap="butt"/>
<line x1="1175.40" y1="811.30" x2="1175.40" y2="822.50" stroke="#000" stroke-width="2.65" stroke-linecap="butt"/>
<text x="191.70" y="71.30" font-size="29.5">0.5</text>
<text x="719.90" y="71.30" font-size="29.5">0.5</text>
<text x="314.30" y="71.30" font-size="29.5">&#8199;.0</text>
<path d="M515 0V1237L197 1010V1180L530 1409H696V0Z" transform="translate(314.30,71.30) scale(0.01440,-0.01440)" fill="#000"/>
<text x="842.50" y="71.30" font-size="29.5">&#8199;.0</text>
<path d="M515 0V1237L197 1010V1180L530 1409H696V0Z" transform="translate(842.50,71.30) scale(0.01440,-0.01440)" fill="#000"/>
<text x="436.90" y="71.30" font-size="29.5">&#8199;.5</text>
<path d="M515 0V1237L197 1010V1180L530 1409H696V0Z" transform="translate(436.90,71.30) scale(0.01440,-0.01440)" fill="#000"/>
<text x="965.10" y="71.30" font-size="29.5">&#8199;.5</text>
<path d="M515 0V1237L197 1010V1180L530 1409H696V0Z" transform="translate(965.10,71.30) scale(0.01440,-0.01440)" fill="#000"/>
<text x="559.50" y="71.30" font-size="29.5">2.0</text>
<text x="1087.70" y="71.30" font-size="29.5">2.0</text>
<text x="56.59" y="101.40" font-size="29.5">2.0</text>
<text x="1200.80" y="101.40" font-size="29.5">2.0</text>
<text x="56.59" y="213.50" font-size="29.5">&#8199;.5</text>
<path d="M515 0V1237L197 1010V1180L530 1409H696V0Z" transform="translate(56.59,213.50) scale(0.01440,-0.01440)" fill="#000"/>
<text x="1200.80" y="213.50" font-size="29.5">&#8199;.5</text>
<path d="M515 0V1237L197 1010V1180L530 1409H696V0Z" transform="translate(1200.80,213.50) scale(0.01440,-0.01440)" fill="#000"/>
<text x="56.59" y="325.60" font-size="29.5">&#8199;.0</text>
<path d="M515 0V1237L197 1010V1180L530 1409H696V0Z" transform="translate(56.59,325.60) scale(0.01440,-0.01440)" fill="#000"/>
<text x="1200.80" y="325.60" font-size="29.5">&#8199;.0</text>
<path d="M515 0V1237L197 1010V1180L530 1409H696V0Z" transform="translate(1200.80,325.60) scale(0.01440,-0.01440)" fill="#000"/>
<text x="56.59" y="437.70" font-size="29.5">0.5</text>
<text x="1200.80" y="437.70" font-size="29.5">0.5</text>
<text x="53.49" y="533.45" font-size="29.5">2.5</text>
<text x="53.49" y="622.90" font-size="29.5">2.0</text>
<text x="53.49" y="712.35" font-size="29.5">&#8199;.5</text>
<path d="M515 0V1237L197 1010V1180L530 1409H696V0Z" transform="translate(53.49,712.35) scale(0.01440,-0.01440)" fill="#000"/>
<text x="53.49" y="801.80" font-size="29.5">&#8199;.0</text>
<path d="M515 0V1237L197 1010V1180L530 1409H696V0Z" transform="translate(53.49,801.80) scale(0.01440,-0.01440)" fill="#000"/>
<text x="1200.80" y="492.70" font-size="29.5">&#8199;.5</text>
<path d="M515 0V1237L197 1010V1180L530 1409H696V0Z" transform="translate(1200.80,492.70) scale(0.01440,-0.01440)" fill="#000"/>
<text x="1200.80" y="601.90" font-size="29.5">&#8199;.0</text>
<path d="M515 0V1237L197 1010V1180L530 1409H696V0Z" transform="translate(1200.80,601.90) scale(0.01440,-0.01440)" fill="#000"/>
<text x="1200.80" y="711.10" font-size="29.5">0.5</text>
<text x="1200.80" y="820.30" font-size="29.5">0.0</text>
<text x="138.40" y="858.10" font-size="29.5">&#8199;</text>
<path d="M515 0V1237L197 1010V1180L530 1409H696V0Z" transform="translate(138.40,858.10) scale(0.01440,-0.01440)" fill="#000"/>
<text x="232.70" y="858.10" font-size="29.5">2</text>
<text x="327.00" y="858.10" font-size="29.5">3</text>
<text x="421.30" y="858.10" font-size="29.5">4</text>
<text x="515.60" y="858.10" font-size="29.5">5</text>
<text x="609.90" y="858.10" font-size="29.5">6</text>
<text x="638.60" y="858.10" font-size="29.5">0</text>
<text x="814.80" y="858.10" font-size="29.5">&#8199;</text>
<path d="M515 0V1237L197 1010V1180L530 1409H696V0Z" transform="translate(814.80,858.10) scale(0.01440,-0.01440)" fill="#000"/>
<text x="991.00" y="858.10" font-size="29.5">2</text>
<text x="1167.20" y="858.10" font-size="29.5">3</text>
<text x="381.30" y="21.7" font-size="29.5" text-anchor="middle"><tspan font-style="italic">λ</tspan><tspan dx="1.9">/</tspan><tspan font-style="italic" dx="0.9">E</tspan><tspan font-size="20.5" dy="8" dx="-1.4">F</tspan></text>
<text x="909.30" y="21.7" font-size="29.5" text-anchor="middle"><tspan font-style="italic">λ</tspan><tspan dx="1.9">/</tspan><tspan font-style="italic" dx="0.9">E</tspan><tspan font-size="20.5" dy="8" dx="-1.4">F</tspan></text>
<text x="383.4" y="900.9" font-size="29.5" text-anchor="middle" font-style="italic">N</text>
<text x="909" y="902" font-size="29.5" text-anchor="middle"><tspan font-style="italic">q</tspan>/<tspan font-style="italic" font-family="Liberation Serif, serif">κ</tspan><tspan font-size="20.5" dy="8">F</tspan></text>
<text transform="translate(21.40,271.50) rotate(-90)" x="0" y="0" font-size="29.5" text-anchor="middle"><tspan font-family="Liberation Serif, serif" font-style="italic">χ</tspan><tspan font-size="20.5" dy="8.5">s</tspan><tspan dy="-8.5"> (</tspan><tspan font-style="italic">q</tspan>, <tspan font-family="Liberation Serif, serif" font-style="italic">ω</tspan> = 0, <tspan font-family="Liberation Serif, serif" font-style="italic">λ</tspan>)/<tspan font-style="italic">N</tspan><tspan font-size="20.5" dy="8.5">F</tspan></text>
<text transform="translate(1287.00,270.50) rotate(-90)" x="0" y="0" font-size="29.5" text-anchor="middle"><tspan font-family="Liberation Serif, serif" font-style="italic">χ</tspan><tspan font-size="20.5" dy="8.5">s</tspan><tspan dy="-8.5"> (</tspan><tspan font-style="italic">q</tspan>, <tspan font-family="Liberation Serif, serif" font-style="italic">ω</tspan> = 0, <tspan font-family="Liberation Serif, serif" font-style="italic">λ</tspan>)/<tspan font-style="italic">N</tspan><tspan font-size="20.5" dy="8.5">F</tspan></text>
<text transform="translate(21.60,617.90) rotate(-90)" x="0" y="0" font-size="29.5" text-anchor="middle"><tspan font-family="Liberation Serif, serif" font-style="italic">χ</tspan><tspan font-size="20.5" dy="8.5">s</tspan><tspan dy="-8.5"> (</tspan><tspan font-style="italic">q</tspan>, <tspan font-family="Liberation Serif, serif" font-style="italic">ω</tspan> = 0) [<tspan font-family="Liberation Serif, serif" font-style="italic" dx="3">λ</tspan><tspan font-size="20.5" dy="-5.5" dx="0.5">*</tspan><tspan dy="5.5" dx="0.5">]/</tspan><tspan font-style="italic">N</tspan><tspan font-size="20.5" dy="8.5">F</tspan></text>
<text transform="translate(1287.60,623.00) rotate(-90)" x="0" y="0" font-size="29.5" text-anchor="middle"><tspan font-family="Liberation Serif, serif" font-style="italic">χ</tspan><tspan font-size="20.5" dy="8.5">s</tspan><tspan dy="-8.5"> (</tspan><tspan font-style="italic">q</tspan>, <tspan font-family="Liberation Serif, serif" font-style="italic">ω</tspan> = 0)/<tspan font-style="italic">N</tspan><tspan font-size="20.5" dy="8.5">F</tspan></text>
<text x="294.80" y="142.80" font-size="29.5"><tspan font-style="italic">r</tspan><tspan font-size="20.5" dy="8.5">s</tspan><tspan dy="-8.5" dx="-0.9"> </tspan><tspan dy="1.3">=</tspan><tspan dy="-1.3" dx="-0.8"> 4</tspan><tspan dx="-0.6" letter-spacing="0"> CFS</tspan></text>
<text x="840.60" y="134.00" font-size="29.5"><tspan font-style="italic">r</tspan><tspan font-size="20.5" dy="8.5">s</tspan><tspan dy="-8.5" dx="-1.1"> </tspan><tspan dy="1.3">=</tspan><tspan dy="-1.3" dx="-0.8"> 4</tspan><tspan dx="-0.6" letter-spacing="-0.3"> VCCFS</tspan></text>
<text x="950.80" y="501.50" font-size="29.5"><tspan font-style="italic">r</tspan><tspan font-size="20.5" dy="8.5">s</tspan><tspan dy="-8.5" dx="-1.3"> </tspan><tspan dy="1.3">=</tspan><tspan dy="-1.3" dx="-0.6"> 4</tspan></text>
<text x="0" y="0" font-size="40" font-weight="bold" transform="translate(603.4,136.2) scale(0.95,1.045)">a</text>
<text x="0" y="0" font-size="40" font-weight="bold" transform="translate(1137.5,136.6) scale(1.08,1.0)">b</text>
<text x="0" y="0" font-size="40" font-weight="bold" transform="translate(602.9,495.5) scale(1.08,1.06)">c</text>
<text x="0" y="0" font-size="40" font-weight="bold" transform="translate(1138.2,495.5) scale(1.08,1.0)">d</text>
<line x1="412.20" y1="383.00" x2="467.40" y2="383.00" stroke="#2ca02c" stroke-width="4.8" stroke-linecap="butt"/>
<circle cx="412.20" cy="383.00" r="6.5" fill="#2ca02c"/>
<circle cx="467.40" cy="383.00" r="6.5" fill="#2ca02c"/>
<text x="487.0" y="391.40" font-size="25.3"><tspan font-style="italic">N</tspan><tspan dx="-0.9"> </tspan><tspan dy="1.2">=</tspan><tspan dy="-1.2" dx="-0.7"> &#8199;</tspan></text>
<path d="M515 0V1237L197 1010V1180L530 1409H696V0Z" transform="translate(532.50,391.40) scale(0.01235,-0.01235)" fill="#000"/>
<line x1="412.20" y1="424.60" x2="467.40" y2="424.60" stroke="#d62728" stroke-width="4.8" stroke-linecap="butt"/>
<circle cx="412.20" cy="424.60" r="6.5" fill="#d62728"/>
<circle cx="467.40" cy="424.60" r="6.5" fill="#d62728"/>
<text x="487.0" y="433.00" font-size="25.3"><tspan font-style="italic">N</tspan><tspan dx="-0.9"> </tspan><tspan dy="1.2">=</tspan><tspan dy="-1.2" dx="-0.7"> 2</tspan></text>
<line x1="791.20" y1="293.00" x2="845.70" y2="293.00" stroke="#17becf" stroke-width="4.8" stroke-linecap="butt"/>
<circle cx="791.20" cy="293.00" r="6.5" fill="#17becf"/>
<circle cx="845.70" cy="293.00" r="6.5" fill="#17becf"/>
<text x="867.0" y="302.00" font-size="25.3"><tspan font-style="italic">N</tspan><tspan dx="-1.0"> </tspan><tspan dy="1.2">=</tspan><tspan dy="-1.2" dx="-1.2"> 3</tspan></text>
<line x1="791.20" y1="334.40" x2="845.70" y2="334.40" stroke="#9467bd" stroke-width="4.8" stroke-linecap="butt"/>
<circle cx="791.20" cy="334.40" r="6.5" fill="#9467bd"/>
<circle cx="845.70" cy="334.40" r="6.5" fill="#9467bd"/>
<text x="867.0" y="343.40" font-size="25.3"><tspan font-style="italic">N</tspan><tspan dx="-1.0"> </tspan><tspan dy="1.2">=</tspan><tspan dy="-1.2" dx="-1.2"> 4</tspan></text>
<line x1="791.20" y1="376.00" x2="845.70" y2="376.00" stroke="#bcbd22" stroke-width="4.8" stroke-linecap="butt"/>
<circle cx="791.20" cy="376.00" r="6.5" fill="#bcbd22"/>
<circle cx="845.70" cy="376.00" r="6.5" fill="#bcbd22"/>
<text x="867.0" y="385.00" font-size="25.3"><tspan font-style="italic">N</tspan><tspan dx="-1.0"> </tspan><tspan dy="1.2">=</tspan><tspan dy="-1.2" dx="-1.2"> 5</tspan></text>
<line x1="791.20" y1="418.00" x2="845.70" y2="418.00" stroke="#000" stroke-width="4.8" stroke-linecap="butt"/>
<circle cx="791.20" cy="418.00" r="6.5" fill="#000"/>
<circle cx="845.70" cy="418.00" r="6.5" fill="#000"/>
<text x="867.0" y="427.00" font-size="25.3"><tspan font-style="italic">N</tspan><tspan dx="-1.0"> </tspan><tspan dy="1.2">=</tspan><tspan dy="-1.2" dx="-1.2"> 6</tspan></text>
<line x1="371.10" y1="502.90" x2="454.00" y2="502.90" stroke="#1f77b4" stroke-width="4.8" stroke-linecap="butt"/>
<circle cx="412.70" cy="502.90" r="11.6" fill="#1f77b4"/>
<text x="466.00" y="512.50" font-size="29.5" text-anchor="start" >CFS</text>
<line x1="371.10" y1="560.30" x2="454.00" y2="560.30" stroke="#ff7f0e" stroke-width="4.8" stroke-linecap="butt"/>
<rect x="401.20" y="549.10" width="22.8" height="22.8" fill="#ff7f0e"/>
<text x="467.80" y="568.40" font-size="29.5" text-anchor="start" letter-spacing="-0.55">VCCFS</text>
<line x1="679.40" y1="696.70" x2="762.70" y2="696.70" stroke="#1f77b4" stroke-width="4.8" stroke-linecap="butt"/>
<text x="773.60" y="705.80" font-size="29.5" text-anchor="start" letter-spacing="-1.0">RPA</text>
<line x1="679.40" y1="754.30" x2="762.70" y2="754.30" stroke="#d62728" stroke-width="4.8" stroke-linecap="butt"/>
<line x1="721.30" y1="734.50" x2="721.30" y2="773.80" stroke="#d62728" stroke-width="5.0" stroke-linecap="butt"/>
<text x="772.50" y="763.70" font-size="29.5" text-anchor="start" >CFS</text>
</svg>
</body></html>
